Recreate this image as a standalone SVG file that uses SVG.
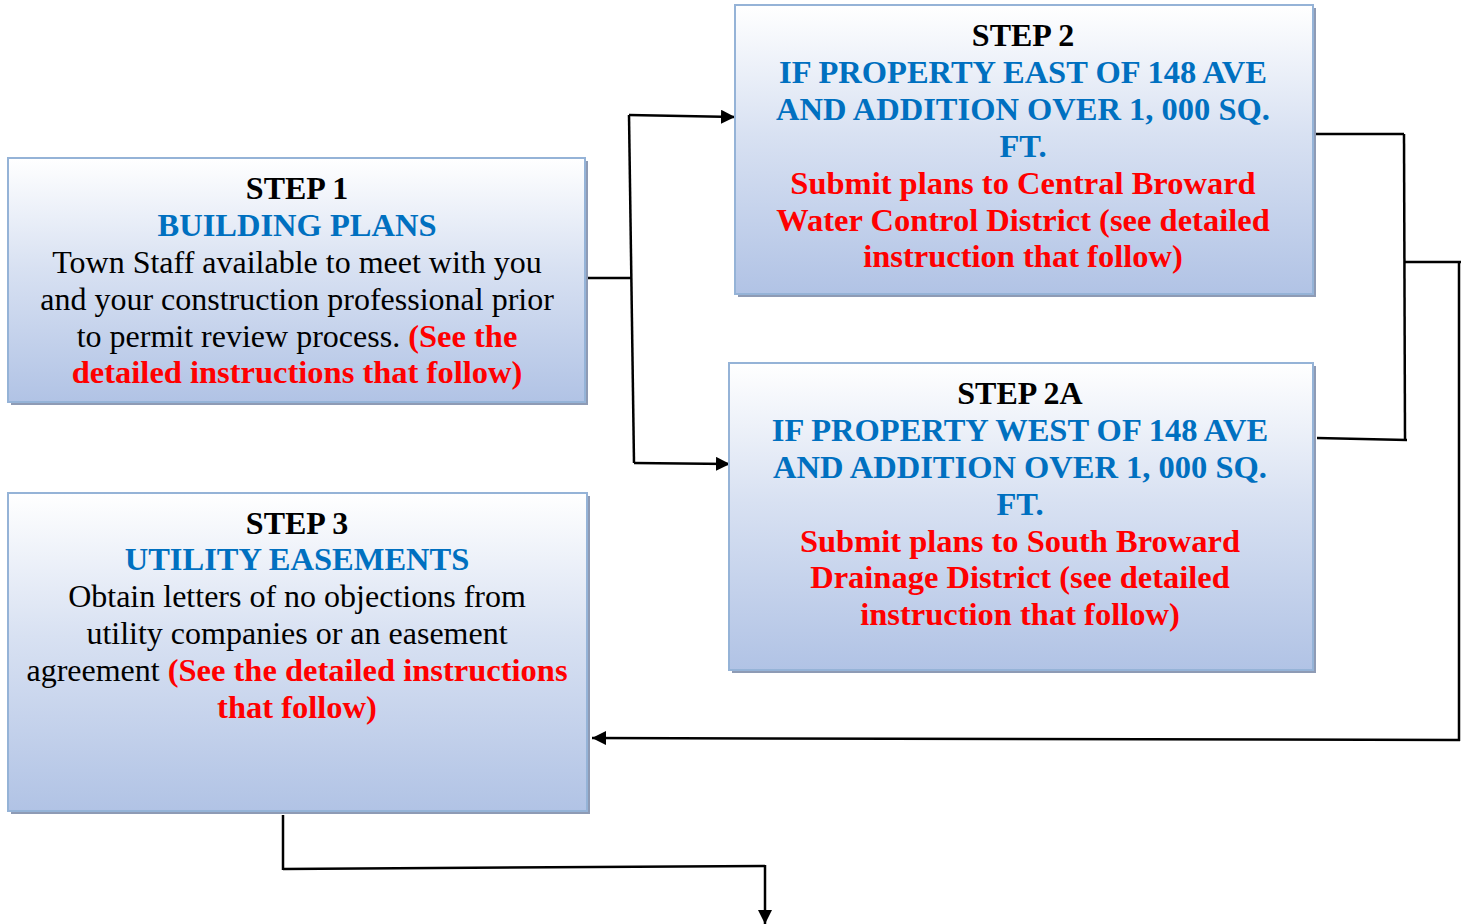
<svg xmlns="http://www.w3.org/2000/svg" width="1465" height="924" viewBox="0 0 1465 924">
<defs>
<linearGradient id="g" x1="0" y1="0" x2="0" y2="1">
<stop offset="0" stop-color="#ffffff"/>
<stop offset="0.45" stop-color="#d8e1f2"/>
<stop offset="1" stop-color="#b1c3e5"/>
</linearGradient>
<marker id="ah" viewBox="0 0 10 10" refX="10" refY="5" markerWidth="5.6" markerHeight="5.6" markerUnits="strokeWidth" orient="auto">
<path d="M0,0 L10,5 L0,10 z" fill="#000"/>
</marker>
</defs>
<style>
.shadow{fill:#8e9bb5}
.box{fill:url(#g);stroke:#95b3d7;stroke-width:2}
text{font-family:"Liberation Serif","Times New Roman",serif;font-size:32px;text-anchor:middle}
.b{font-weight:bold}
.k{fill:#000}
.bl{fill:#0070c0;font-weight:bold;font-size:32.5px}
.r{fill:#ff0000;font-weight:bold;font-size:32.5px}
.c{fill:none;stroke:#000;stroke-width:2.5}
</style>
<rect width="1465" height="924" fill="#fff"/>

<g id="connectors">
<polyline class="c" points="585,278 632,278"/>
<polyline class="c" points="629,115 634,463"/>
<polyline class="c" points="629,115 735,117" marker-end="url(#ah)"/>
<polyline class="c" points="634,463 730,464" marker-end="url(#ah)"/>
<polyline class="c" points="1313,134 1404,134"/>
<polyline class="c" points="1404,134 1405,441"/>
<polyline class="c" points="1317,438 1407,440"/>
<polyline class="c" points="1405,262 1461,262"/>
<polyline class="c" points="1459,262 1459,741"/>
<polyline class="c" points="1460,740 592,738" marker-end="url(#ah)"/>
<polyline class="c" points="283,815 283,870"/>
<polyline class="c" points="283,869 765,866"/>
<polyline class="c" points="765,865 765,924" marker-end="url(#ah)"/>
</g>

<g id="step1">
<rect class="shadow" x="11" y="161" width="577" height="244"/>
<rect class="box" x="8" y="158" width="577" height="244"/>
<text x="297" y="199" class="b k">STEP 1</text>
<text x="297" y="236" class="bl">BUILDING PLANS</text>
<text x="297" y="273" class="k">Town Staff available to meet with you</text>
<text x="297" y="310" class="k">and your construction professional prior</text>
<text x="297" y="347" class="k">to permit review process. <tspan class="r">(See the</tspan></text>
<text x="297" y="383" class="r">detailed instructions that follow)</text>
</g>

<g id="step2">
<rect class="shadow" x="738" y="8" width="578" height="289"/>
<rect class="box" x="735" y="5" width="578" height="289"/>
<text x="1023" y="46" class="b k">STEP 2</text>
<text x="1023" y="83" class="bl">IF PROPERTY EAST OF 148 AVE</text>
<text x="1023" y="120" class="bl">AND ADDITION OVER 1, 000 SQ.</text>
<text x="1023" y="157" class="bl">FT.</text>
<text x="1023" y="194" class="r">Submit plans to Central Broward</text>
<text x="1023" y="231" class="r">Water Control District (see detailed</text>
<text x="1023" y="267" class="r">instruction that follow)</text>
</g>

<g id="step2a">
<rect class="shadow" x="732" y="366" width="584" height="307"/>
<rect class="box" x="729" y="363" width="584" height="307"/>
<text x="1020" y="404" class="b k">STEP 2A</text>
<text x="1020" y="441" class="bl">IF PROPERTY WEST OF 148 AVE</text>
<text x="1020" y="478" class="bl">AND ADDITION OVER 1, 000 SQ.</text>
<text x="1020" y="515" class="bl">FT.</text>
<text x="1020" y="552" class="r">Submit plans to South Broward</text>
<text x="1020" y="588" class="r">Drainage District (see detailed</text>
<text x="1020" y="625" class="r">instruction that follow)</text>
</g>

<g id="step3">
<rect class="shadow" x="11" y="496" width="579" height="318"/>
<rect class="box" x="8" y="493" width="579" height="318"/>
<text x="297" y="534" class="b k">STEP 3</text>
<text x="297" y="570" class="bl">UTILITY EASEMENTS</text>
<text x="297" y="607" class="k">Obtain letters of no objections from</text>
<text x="297" y="644" class="k">utility companies or an easement</text>
<text x="297" y="681" class="k">agreement <tspan class="r">(See the detailed instructions</tspan></text>
<text x="297" y="718" class="r">that follow)</text>
</g>
</svg>
